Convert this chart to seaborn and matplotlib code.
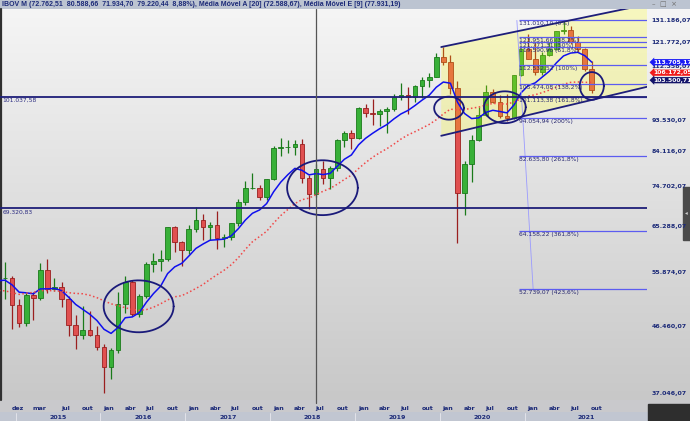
"""
IBOV monthly candles with moving averages, channel and fibonacci levels
"""
import numpy as np
import pandas as pd
import matplotlib
matplotlib.use("Agg")
import matplotlib.pyplot as plt
from matplotlib.patches import Rectangle, Polygon
from matplotlib.ticker import NullLocator, NullFormatter
import seaborn as sns

# monthly candles, nov/2014 .. out/2021
open_ = [54629, 54724, 50007, 46908, 51583, 51150, 56229, 52760, 53081, 50865,
         46626, 45059, 45869, 45120, 43350, 40406, 42794, 50055, 53911, 48471,
         51527, 57308, 57901, 58367, 64925, 61906, 60227.40, 64671, 66662, 64984,
         65403, 62711, 62900, 65920, 70835, 74294, 74308, 71971, 76402, 84913,
         85354, 85366, 86115, 76754, 72762.51, 79220.44, 76678, 79342, 87424, 89504,
         87887, 97394, 95584, 95415, 96353, 97030, 100967, 101812, 101135, 104745,
         107220, 108233, 115645, 113761, 104172, 73019.76, 80505.89, 87402.59, 95055.82, 102912.24,
         99369.15, 94603.38, 93952.40, 108893.32, 119017.24, 115067.55, 110035.17, 116633.72, 118893.84, 126215.73,
         126801.66, 121800.79, 118781.03, 110979.10]
high = [57700, 55100, 50900, 52000, 52200, 57600, 58400, 54700, 53900, 51500,
        48300, 49700, 48900, 46500, 43800, 43100, 52200, 55000, 54300, 51900,
        57700, 59500, 60100, 64950, 65300, 62000, 65500, 69500, 68000, 66100,
        68700, 63600, 66000, 71600, 76000, 78000, 75000, 76500, 85500, 88000,
        87300, 87300, 87700, 77700, 80588.66, 81400, 80000, 87700, 90000, 90400,
        97700, 98600, 100400, 97000, 97600, 102000, 106000, 104500, 105100, 108200,
        109700, 117200, 119600, 116600, 106700, 81300, 88700, 97700, 105100, 104000,
        101600, 102000, 109000, 119500, 125300, 121400, 117800, 121900, 126300, 131186.07,
        128400, 124400, 119500, 114100]
low = [51000, 46000, 46300, 46500, 47500, 50800, 52000, 52300, 49600, 44900,
       43000, 44500, 44900, 42900, 37046.07, 38900, 42400, 48600, 48100, 48000,
       51200, 55800, 56000, 58000, 59800, 56900, 59400, 64000, 62300, 62300,
       60400, 60700, 62200, 65200, 70000, 74000, 71300, 71200, 76300, 82700,
       83500, 83000, 75600, 69100, 71934.70, 75200, 74000, 78500, 85300, 84600,
       87500, 94400, 91800, 91700, 89400, 96500, 100000, 95300, 99400, 100600,
       104700, 108000, 112800, 102000, 61700, 67800, 75700, 87000, 94900, 98900,
       94000, 93300, 93700, 108500, 114800, 108900, 108800, 116200, 118700, 125300,
       121000, 117800, 110300, 102600]
close = [54724, 50007, 46908, 51583, 51150, 56229, 52760, 53081, 50865, 46626,
         45059, 45869, 45120, 43350, 40406, 42794, 50055, 53911, 48471, 51527,
         57308, 57901, 58367, 64925, 61906, 60227.40, 64671, 66662, 64984, 65403,
         62711, 62900, 65920, 70835, 74294, 74308, 71971, 76402, 84913, 85354,
         85366, 86115, 76754, 72762.51, 79220.44, 76678, 79342, 87424, 89504, 87887,
         97394, 95584, 95415, 96353, 97030, 100967, 101812, 101135, 104745, 107220,
         108233, 115645, 113761, 104172, 73019.76, 80505.89, 87402.59, 95055.82, 102912.24, 99369.15,
         94603.38, 93952.40, 108893.32, 119017.24, 115067.55, 110035.17, 116633.72, 118893.84, 126215.73, 126801.66,
         121800.79, 118781.03, 110979.10, 103500.71]
# closes jan/2013 .. out/2014, only used to start the averages
warmup_close = [59761, 57424, 56352, 55910, 53506, 47457, 48234, 50008, 52338, 54256,
                52482, 51507, 47639, 47094, 50415, 51627, 51239, 53168, 55829, 61288,
                54116, 54629]

first_month = "2014-11"
month_ticks = ["2014-12", "2015-03", "2015-07", "2015-10"] + \
    [f"{y}-{m:02d}" for y in range(2016, 2022) for m in (1, 4, 7, 10)]
month_names = {1: "jan", 3: "mar", 4: "abr", 7: "jul", 10: "out", 12: "dez"}
cursor_month = "2018-07"

support_lines = [101037.58, 69320.83]
fib_top = 131010.10
fib_base = 112532.52
fib_ratios = [0, 38.2, 50, 61.8, 100, 138.2, 161.8, 200, 261.8, 361.8, 423.6]
fib_start = 72.7          # month index where the fibo lines start
fib_diag = ([72.4, 74.7], [131010.10, 52739.07])

# channel (month index, price)
chan_x = [61.7, 90.8]
chan_top = [119700, 138300]
chan_bot = [88600, 104600]

# circles: month index, price, half width (months), half height (log)
circles = [(18.9, 49700, 4.95, 0.088),
           (44.9, 74300, 5.0, 0.093),
           (62.8, 97300, 2.1, 0.039),
           (70.7, 97600, 2.95, 0.054),
           (83.0, 104900, 1.7, 0.047)]


def br(v):
    s = f"{v:,.2f}"
    return s.replace(",", "X").replace(".", ",").replace("X", ".")


def pct(r):
    return (f"{r:g}").replace(".", ",") + "%"


sns.set_theme(style="white")
plt.rcParams['font.family'] = ['DejaVu Sans']

o = np.array(open_, float)
h = np.array(high, float)
l = np.array(low, float)
c = np.array(close, float)
n = len(c)
k = np.arange(n)
months = pd.period_range(first_month, periods=n, freq="M")
mpos = {str(p): i for i, p in enumerate(months)}

full = pd.Series(warmup_close + close, dtype=float)
kk = np.arange(-len(warmup_close), n)
sma20 = full.rolling(20).mean()
ema9 = full.ewm(span=9, adjust=False).mean()

W, H = 690, 421
PX = 7.07   # pixels per month
NAVY = '#1c2a78'
fig = plt.figure(figsize=(W / 100, H / 100), dpi=100)

# background
bg = fig.add_axes([0, 0, 1, 1], zorder=0)
g = np.linspace(0.965, 0.775, H)
img = np.dstack([np.repeat(g[:, None], W, axis=1)] * 3)
img[:9] = [0.74, 0.77, 0.82]
img[400:412] = [0.79, 0.79, 0.80]
img[412:] = [0.76, 0.78, 0.82]
bg.imshow(img, extent=[0, W, H, 0], aspect='auto', interpolation='bilinear')
bg.set_xlim(0, W)
bg.set_ylim(H, 0)
bg.axis('off')
bg.plot([0.8, 0.8], [9, 400], color='#303030', lw=1.6)
bg.add_patch(Rectangle((683, 187), 7, 53, color='#4a4a4a'))
bg.text(686.5, 213, "◂", color='#cfcfcf', fontsize=4, ha='center', va='center')
bg.add_patch(Rectangle((648, 404), 42, 17, color='#2e2e2e'))
bg.text(664, 4.5, "–  □  ×", color='#707070', fontsize=5, ha='center', va='center')

ci = mpos[cursor_month]
off = len(warmup_close)
chg = br((c[ci] / c[ci - 1] - 1) * 100)
head = (f"IBOV M ({br(o[ci])}  {br(h[ci])}  {br(l[ci])}  {br(c[ci])}  {chg}%), "
        f"Média Móvel A [20] ({br(sma20.iloc[ci + off])}), "
        f"Média Móvel E [9] ({br(ema9.iloc[ci + off])})")
bg.text(2, 4.6, head, color=NAVY, fontsize=5.0, fontweight='bold', va='center', ha='left',
        family=['Liberation Sans', 'DejaVu Sans'])

ax = fig.add_axes([0, 21 / H, 647 / W, 391 / H], zorder=1)
ax.patch.set_alpha(0)
ax.set_yscale('log')
ax.yaxis.set_minor_locator(NullLocator())
ax.yaxis.set_minor_formatter(NullFormatter())
ymin, ymax = l.min(), h.max()
ax.set_ylim(ymin * np.exp(-7 / 295), ymax * np.exp(11 / 295))
ax.set_xlim(-5 / PX, 642 / PX)
for s in ax.spines.values():
    s.set_visible(False)

# candles
upc = c >= o
edge = np.where(upc, '#1a7a1a', '#9a1f1f')
fill = np.where(upc, '#38b038', '#e05050')
ax.vlines(k, l, h, colors=edge, lw=0.9, zorder=3)
ax.bar(k, np.maximum(np.abs(c - o), 1), bottom=np.minimum(o, c), width=0.66,
       color=fill, edgecolor=edge, linewidth=0.6, zorder=3.2)

# channel
ax.add_patch(Polygon([(chan_x[0], chan_top[0]), (chan_x[1], chan_top[1]),
                      (chan_x[1], chan_bot[1]), (chan_x[0], chan_bot[0])],
                     closed=True, fc='#ffff00', alpha=0.22, ec='none', zorder=3.5))
ax.plot(chan_x, chan_top, color='#1e1e7a', lw=1.3, zorder=5)
ax.plot(chan_x, chan_bot, color='#1e1e7a', lw=1.3, zorder=5)

# moving averages
show = kk >= -1
sns.lineplot(x=kk[show], y=ema9.values[show], ax=ax, color='#1010ee', lw=1.1, zorder=4)
sns.lineplot(x=kk[show], y=sma20.values[show], ax=ax, color='#f04848', lw=1.1,
             linestyle=(0, (1, 1.6)), zorder=4)

# horizontal supports
for v in support_lines:
    ax.axhline(v, color='#1e1e78', lw=1.3, zorder=4.5)
    ax.text(0.004, v * 0.996, br(v), transform=ax.get_yaxis_transform(), color='#2a2a80',
            fontsize=4.3, va='top', ha='left', zorder=6)

# fibonacci
rng = fib_top - fib_base
for r in fib_ratios:
    lv = fib_top - r / 100 * rng
    ax.hlines(lv, fib_start, ax.get_xlim()[1], color='#5c5cf0', lw=0.9, zorder=4.2)
    ax.text(fib_start, lv * 0.997, f"{br(lv)} ({pct(r)})", color='#26266e', fontsize=4.3,
            va='top', ha='left', zorder=6)
ax.plot(fib_diag[0], fib_diag[1], color='#9a9aff', lw=0.6, zorder=4.1)

# circles
t = np.linspace(0, 2 * np.pi, 200)
for xc, pc, a, b in circles:
    ax.plot(xc + a * np.cos(t), pc * np.exp(b * np.sin(t)), color='#1a1a7a', lw=1.3, zorder=6)

# cursor
ax.axvline(ci, ymin=-0.008, color='#555555', lw=0.9, zorder=7, clip_on=False)

# right price scale (labels hidden behind the value flags are dropped)
marks = [(ema9.iloc[-1], '#1c1cf5', 0), (sma20.iloc[-1], '#f01c1c', 7), (c[-1], '#14146a', 7)]
ticks = np.linspace(ymin, ymax, 11)
ticks = [v for v in ticks if min(abs(np.log(v / m[0])) for m in marks[1:]) > 0.03]
ax.yaxis.tick_right()
ax.set_yticks(ticks)
ax.set_yticklabels([br(v) for v in ticks])
ax.tick_params(axis='y', length=0, pad=3.4, labelsize=4.5, labelcolor=NAVY)
for lab in ax.get_yticklabels():
    lab.set_fontweight('bold')
ax.set_xticks([])

for v, col, dy in marks:
    ax.annotate(br(v), xy=(1.0, v), xycoords=ax.get_yaxis_transform(),
                xytext=(4.2, dy), textcoords='offset points', color='white',
                fontsize=4.4, fontweight='bold', va='center', ha='left', zorder=9,
                annotation_clip=False,
                bbox=dict(boxstyle='larrow,pad=0.1', fc=col, ec='none'))

# time axis
xt = ax.get_xaxis_transform()
for m in month_ticks:
    i = mpos[m]
    ax.text(i - 0.1, -0.021, month_names[int(m[-2:])], transform=xt, ha='left', va='center',
            fontsize=4.5, fontweight='bold', color=NAVY, clip_on=False)
years = months.year
x0, x1 = ax.get_xlim()
for y in sorted(set(years)):
    if y == 2014:
        continue
    idx = np.where(years == y)[0]
    lo = idx[0] - 0.5
    hi = idx[-1] + 0.5 if idx[-1] < n - 1 else x1
    ax.text((lo + hi) / 2, -0.0445, str(y), transform=xt, ha='center', va='center',
            fontsize=4.5, fontweight='bold', color=NAVY, clip_on=False)
    ax.plot([lo, lo], [-0.033, -0.055], transform=xt, color='#e8e8ee',
            lw=0.6, clip_on=False)

fig.savefig("out.png", dpi=100)
